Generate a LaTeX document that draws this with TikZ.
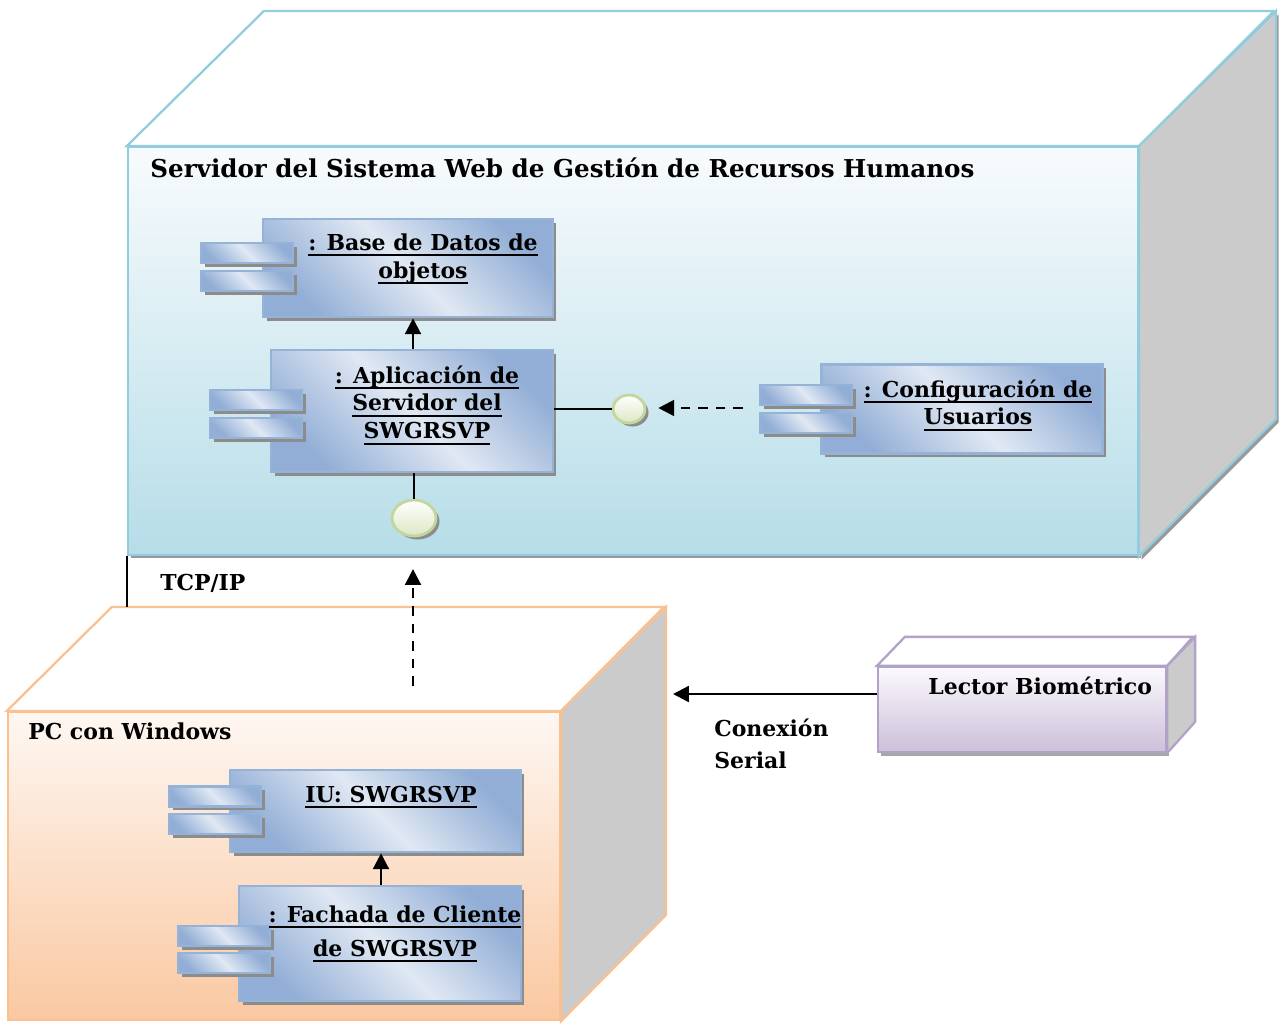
\documentclass[tikz,border=0pt]{standalone}
\usepackage{fontspec}
\setmainfont{DejaVu Serif}
\usetikzlibrary{arrows.meta,calc,positioning,shapes.geometric,shadows}
\definecolor{srvedge}{HTML}{93CDDD}
\definecolor{srvtop}{HTML}{F8FBFD}
\definecolor{srvbot}{HTML}{B6DDE8}
\definecolor{pcedge}{HTML}{FAC08F}
\definecolor{pctop}{HTML}{FEF7F2}
\definecolor{pcbot}{HTML}{FAC8A1}
\definecolor{lecedge}{HTML}{B3A2C7}
\definecolor{lectop}{HTML}{FBF9FD}
\definecolor{lecbot}{HTML}{CCC0DA}
\definecolor{sidegray}{HTML}{CBCBCB}
\definecolor{compedge}{HTML}{95B3D7}
\definecolor{compdark}{HTML}{92AED6}
\definecolor{complight}{HTML}{E0E8F3}
\definecolor{loledge}{HTML}{C3D69B}
\definecolor{lolfill}{HTML}{DCE7C4}
\newcommand{\undl}[1]{\setbox0\hbox{#1}\leavevmode\rlap{\raisebox{-3.2pt}{\rule{\wd0}{1.1pt}}}\box0}

\tikzset{
  shdw/.style={drop shadow={shadow xshift=2pt,shadow yshift=-2pt,opacity=1,fill=black!45}},
  comp/.style={draw=compedge,line width=1.5pt,top color=compdark,bottom color=compdark,
    middle color=complight,shading angle=-45,shdw,inner sep=0pt},
  tab/.style={comp,minimum width=1.84cm,minimum height=0.4cm},
  lbl/.style={font=\bfseries\fontsize{12.5}{15.9}\selectfont,align=center,inner sep=0pt},
  ttl/.style={font=\bfseries\fontsize{12.5}{18}\selectfont,anchor=west,inner sep=0pt},
  lolli/.style={ellipse,draw=loledge,line width=1.6pt,top color=white,bottom color=lolfill,
    inner sep=0pt,shdw},
  conn/.style={line width=1.4pt,-{Triangle[length=9pt,width=9pt]}},
  dep/.style={conn,dash pattern=on 5.5pt off 4.5pt},
  sideface/.style={line width=1.3pt,fill=sidegray},
}

\begin{document}
\begin{tikzpicture}[x=0.02cm,y=-0.02cm]
  \useasboundingbox (0,0) rectangle (1283,1024);

  % servidor
  \node[draw=srvedge,line width=1.3pt,top color=srvtop,bottom color=srvbot,
    minimum width=20.2cm,minimum height=8.16cm,inner sep=0pt,
    drop shadow={shadow xshift=1.5pt,shadow yshift=-2pt,opacity=1,fill=black!40}] (srv) at (633,351) {};
  \draw[draw=srvedge,line width=1.3pt,fill=white] (srv.north west) -- ++(137,-135) -- ++(1010,0) -- (srv.north east) -- cycle;
  \draw[sideface,draw=srvedge,drop shadow={shadow xshift=1.5pt,shadow yshift=-2pt,opacity=1,fill=black!40}]
    (srv.north east) -- ++(137,-135) -- ++(0,408) -- (srv.south east) -- cycle;
  \node[ttl,font=\bfseries\fontsize{14}{18}\selectfont] (srvname) at (150,168) {Servidor del Sistema Web de Gestión de Recursos Humanos};

  \node[comp,minimum width=5.8cm,minimum height=1.96cm] (base) at (408,268) {};
  \node[tab] (baseA) at (247,253) {};
  \node[tab] (baseB) at (247,281) {};
  \node[lbl] (baseL) at (423,259) {\undl{: Base de Datos de}\\\undl{objetos}};

  \node[comp,minimum width=5.64cm,minimum height=2.44cm] (app) at (412,411) {};
  \node[tab] (appA) at (256,400) {};
  \node[tab] (appB) at (256,428) {};
  \node[lbl] (appL) at (427,405) {\undl{: Aplicación de}\\\undl{Servidor del}\\\undl{SWGRSVP}};

  \node[comp,minimum width=5.62cm,minimum height=1.78cm] (cfg) at (962,409) {};
  \node[tab] (cfgA) at (806,395) {};
  \node[tab] (cfgB) at (806,423) {};
  \node[lbl] (cfgL) at (978,405) {\undl{: Configuración de}\\\undl{Usuarios}};

  \node[lolli,minimum width=0.64cm,minimum height=0.56cm] (lolR) at (629,409) {};
  \node[lolli,minimum width=0.88cm,minimum height=0.72cm] (lolB) at (414,518) {};
  \coordinate (cfgdep) at (743,408);

  \draw[conn] (app.north -| 413,0) -- (base.south -| 413,0);
  \draw[line width=1.4pt] (app.east |- lolR) -- (lolR.west);
  \draw[line width=1.4pt] (app.south -| lolB) -- (lolB.north);
  \draw[dep,shorten >=6.8pt] (cfgdep) -- (lolR.east |- cfgdep);

  % PC
  \node[draw=pcedge,line width=1.3pt,top color=pctop,bottom color=pcbot,
    minimum width=11.04cm,minimum height=6.16cm,inner sep=0pt] (pc) at (284,866) {};
  \draw[draw=pcedge,line width=1.3pt,fill=white] (pc.north west) -- ++(105,-104) coordinate (pcback) -- ++(552,0) -- (pc.north east) -- cycle;
  \draw[sideface,draw=pcedge] (pc.north east) -- ++(105,-104) -- ++(0,308) -- (pc.south east) -- cycle;
  \node[ttl] (pcname) at (28,731) {PC con Windows};

  \node[comp,minimum width=5.82cm,minimum height=1.64cm] (iu) at (375.5,811) {};
  \node[tab] (iuA) at (215,796.5) {};
  \node[tab] (iuB) at (215,824) {};
  \node[lbl] (iuL) at (391,797) {\undl{IU: SWGRSVP}};

  \node[comp,minimum width=5.64cm,minimum height=2.3cm] (fach) at (380,943.5) {};
  \node[tab] (fachA) at (224,936) {};
  \node[tab] (fachB) at (224,963) {};
  \node[lbl,font=\bfseries\fontsize{12.5}{19.3}\selectfont] (fachL) at (395,934) {\undl{: Fachada de Cliente}\\\undl{de SWGRSVP}};

  \draw[conn] (fach.north -| 381,0) -- (iu.south -| 381,0);

  % lector
  \node[draw=lecedge,line width=1.3pt,top color=lectop,bottom color=lecbot,
    minimum width=5.76cm,minimum height=1.7cm,inner sep=0pt,
    drop shadow={shadow xshift=1.5pt,shadow yshift=-2pt,opacity=1,fill=black!35}] (lector) at (1022,709.5) {};
  \draw[draw=lecedge,line width=1.3pt,fill=white] (lector.north west) -- ++(28,-29) -- ++(288,0) -- (lector.north east) -- cycle;
  \draw[sideface,draw=lecedge] (lector.north east) -- ++(28,-29) -- ++(0,85) -- (lector.south east) -- cycle;
  \node[ttl] (lecname) at (928,686) {Lector Biométrico};

  % conexiones entre nodos
  \coordinate (pcdep) at (413,686);
  \coordinate (pcside) at (663,694);
  \draw[line width=0.9pt] (srv.south west) -- (srv.south west |- pcback);
  \node[ttl] (tcp) at (160,583) {TCP/IP};
  \draw[dep,shorten >=7.4pt] (pcdep) -- (srv.south -| pcdep);
  \draw[conn,shorten >=5.7pt] (lector.west |- pcside) -- (pcside);
  \node[ttl,align=left] (serial) at (714,744) {Conexión\\Serial};
\end{tikzpicture}
\end{document}
